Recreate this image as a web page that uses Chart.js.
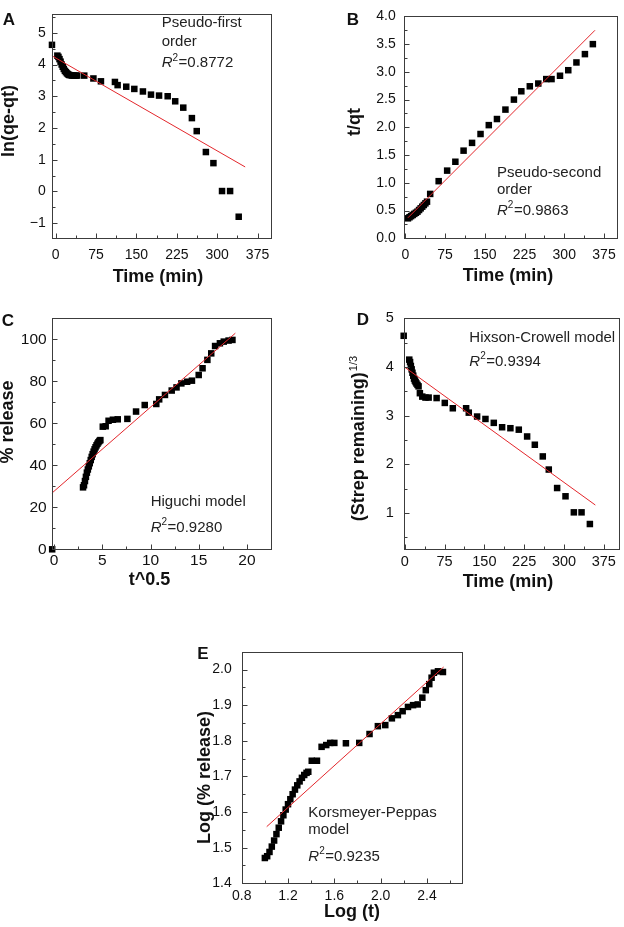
<!DOCTYPE html>
<html>
<head>
<meta charset="utf-8">
<script src="https://cdn.jsdelivr.net/npm/chart.js@4.4.0/dist/chart.umd.min.js"></script>
<style>
html, body { margin: 0; padding: 0; background: #fff; }
#wrap { position: relative; width: 624px; height: 927px; }
canvas { position: absolute; left: 0; top: 0; }
</style>
</head>
<body>
<div id="wrap">
  <canvas id="cA" width="624" height="927"></canvas>
  <canvas id="cB" width="624" height="927"></canvas>
  <canvas id="cC" width="624" height="927"></canvas>
  <canvas id="cD" width="624" height="927"></canvas>
  <canvas id="cE" width="624" height="927"></canvas>
</div>
<script>
// A - pseudo-first order
const timeA = [-7, 3, 5, 7, 9, 11, 13, 15, 17, 19, 21, 23, 25, 28, 31, 34, 37, 40, 53, 70, 84, 110, 115, 131, 146, 162, 177, 192, 208, 222, 237, 253, 262, 279, 293, 309, 324, 340];
const lnA = [4.62, 4.28, 4.24, 4.17, 4.09, 4.00, 3.93, 3.86, 3.80, 3.76, 3.72, 3.69, 3.67, 3.66, 3.65, 3.65, 3.65, 3.65, 3.65, 3.56, 3.47, 3.45, 3.35, 3.30, 3.23, 3.15, 3.05, 3.02, 3.00, 2.84, 2.64, 2.31, 1.90, 1.24, 0.89, 0.01, 0.01, -0.80];
const fitXA = [-7.5, 352];
const fitYA = [4.28, 0.77];

// B - pseudo-second order
const timeB = [5, 8, 11, 14, 17, 20, 23, 26, 29, 32, 35, 38, 41, 47, 63, 79, 94.5, 110, 126, 142, 157.6, 173, 189, 205, 219, 235, 251, 266, 276, 292, 307.6, 323, 339, 354];
const tqB = [0.36, 0.38, 0.40, 0.42, 0.44, 0.46, 0.48, 0.51, 0.54, 0.57, 0.60, 0.63, 0.66, 0.80, 1.03, 1.22, 1.38, 1.58, 1.72, 1.88, 2.04, 2.15, 2.32, 2.50, 2.65, 2.74, 2.79, 2.87, 2.87, 2.93, 3.03, 3.17, 3.32, 3.50];
const fitXB = [5, 358];
const fitYB = [0.37, 3.75];

// C - Higuchi
const sqrtC = [-0.2, 3.0, 3.1, 3.2, 3.3, 3.4, 3.5, 3.6, 3.7, 3.8, 3.9, 4.0, 4.1, 4.2, 4.3, 4.4, 4.5, 4.6, 4.7, 4.8, 5.05, 5.35, 5.65, 6.1, 6.6, 7.6, 8.5, 9.4, 10.6, 10.9, 11.5, 12.2, 12.7, 13.2, 13.8, 14.3, 15.0, 15.4, 15.9, 16.3, 16.7, 17.2, 17.6, 18.1, 18.5];
const relC = [0, 29.5, 30.5, 32.5, 34.5, 36.5, 38, 39.5, 41, 42.5, 44, 45.3, 46.5, 47.6, 48.6, 49.5, 50.3, 51, 51.6, 52, 58.4, 58.6, 61.2, 61.7, 61.9, 62.1, 65.6, 68.7, 69.2, 71.4, 73.5, 75.6, 77.1, 79, 79.8, 80.3, 83, 86.2, 90.2, 93.3, 96.8, 98.1, 98.9, 99.4, 99.7];
const fitXC = [-0.24, 18.8];
const fitYC = [26.7, 102.9];

// D - Hixson-Crowell
const timeD = [-2, 8.5, 10, 11.5, 13, 14.5, 16, 17.5, 19, 20.5, 22, 24, 26, 28.5, 33, 39, 45, 60, 75.4, 90.5, 115.6, 120.6, 136.3, 152, 167.7, 183.4, 199, 214.8, 230.5, 245, 260, 271.3, 287, 302.8, 318.5, 333, 348.7];
const cubeD = [4.64, 4.15, 4.10, 4.02, 3.95, 3.88, 3.82, 3.76, 3.72, 3.69, 3.66, 3.63, 3.60, 3.46, 3.39, 3.37, 3.37, 3.36, 3.26, 3.15, 3.15, 3.06, 2.98, 2.93, 2.85, 2.76, 2.74, 2.71, 2.57, 2.40, 2.16, 1.89, 1.51, 1.34, 1.01, 1.01, 0.77];
const fitXD = [-2, 359];
const fitYD = [4.01, 1.16];

// E - Korsmeyer-Peppas
const logtE = [1.00, 1.02, 1.04, 1.06, 1.08, 1.10, 1.12, 1.14, 1.16, 1.18, 1.20, 1.22, 1.24, 1.26, 1.28, 1.30, 1.32, 1.34, 1.36, 1.375, 1.405, 1.45, 1.49, 1.53, 1.564, 1.60, 1.70, 1.815, 1.904, 1.976, 2.04, 2.097, 2.149, 2.19, 2.236, 2.28, 2.32, 2.36, 2.39, 2.42, 2.44, 2.46, 2.495, 2.538];
const logRelE = [1.471, 1.476, 1.488, 1.503, 1.52, 1.538, 1.556, 1.574, 1.591, 1.607, 1.622, 1.636, 1.65, 1.663, 1.675, 1.686, 1.696, 1.704, 1.71, 1.713, 1.744, 1.744, 1.783, 1.788, 1.794, 1.794, 1.793, 1.794, 1.819, 1.841, 1.844, 1.863, 1.872, 1.883, 1.895, 1.90, 1.902, 1.921, 1.942, 1.959, 1.977, 1.991, 1.995, 1.993];
const fitXE = [1.016, 2.544];
const fitYE = [1.559, 2.007];

// tick labels
const timeTicks = [0, 75, 150, 225, 300, 375];
const yTicksA = [-1, 0, 1, 2, 3, 4, 5];
const yTicksB = [0, 0.5, 1, 1.5, 2, 2.5, 3, 3.5, 4];
const xTicksC = [0, 5, 10, 15, 20];
const yTicksC = [0, 20, 40, 60, 80, 100];
const yTicksD = [1, 2, 3, 4, 5];
const xTicksE = [0.8, 1.2, 1.6, 2.0, 2.4];
const yTicksE = [1.4, 1.5, 1.6, 1.7, 1.8, 1.9, 2.0];

const FONT = '"Liberation Sans", Arial, sans-serif';
const YW = 30, XH = 30;

function pts(xs, ys) {
    return xs.map((v, i) => ({ x: v, y: ys[i] }));
}

function run(min, max, minor, major, fn) {
    const k0 = Math.ceil(min / minor - 1e-9), k1 = Math.floor(max / minor + 1e-9);
    for (let k = k0; k <= k1; k++) {
        const v = k * minor;
        const r = v / major;
        fn(v, Math.abs(r - Math.round(r)) < 1e-6);
    }
}

function drawR2(ctx, x, y, val) {
    ctx.font = 'italic 15px ' + FONT;
    ctx.fillText('R', x, y);
    let w = ctx.measureText('R').width;
    ctx.font = '10px ' + FONT;
    ctx.fillText('2', x + w, y - 5);
    w += ctx.measureText('2').width + 0.5;
    ctx.font = '15px ' + FONT;
    ctx.fillText('=' + val, x + w, y);
}

const frame = {
    id: 'frame',
    afterDraw(chart, args, o) {
        const ctx = chart.ctx, a = chart.chartArea;
        const xs = chart.scales.x, ys = chart.scales.y;
        ctx.save();
        ctx.strokeStyle = '#3c3c3c';
        ctx.lineWidth = 1;
        const L = Math.round(a.left) + 0.5, R = Math.round(a.right) + 0.5;
        const T = Math.round(a.top) + 0.5, B = Math.round(a.bottom) + 0.5;
        ctx.strokeRect(L, T, R - L, B - T);
        ctx.beginPath();
        run(xs.min, xs.max, o.xMinor, o.xMajor, (v, big) => {
            const p = Math.round(xs.getPixelForValue(v)) + 0.5;
            ctx.moveTo(p, B); ctx.lineTo(p, B - (big ? 5 : 3));
        });
        run(ys.min, ys.max, o.yMinor, o.yMajor, (v, big) => {
            const p = Math.round(ys.getPixelForValue(v)) + 0.5;
            ctx.moveTo(L, p); ctx.lineTo(L + (big ? 5 : 3), p);
        });
        ctx.stroke();

        ctx.fillStyle = '#111';
        ctx.textBaseline = 'middle';
        // panel letter
        ctx.textAlign = 'center';
        ctx.font = 'bold 17px ' + FONT;
        ctx.fillText(o.letter[0], o.letter[1], o.letter[2]);
        // x title
        ctx.font = 'bold 18px ' + FONT;
        ctx.fillText(o.xTitle[0], o.xTitle[1], o.xTitle[2]);
        // y title
        ctx.save();
        ctx.translate(o.yTitle[1], o.yTitle[2]);
        ctx.rotate(-Math.PI / 2);
        if (o.ySup) {
            const w1 = ctx.measureText(o.yTitle[0]).width;
            ctx.font = '11px ' + FONT;
            const w2 = ctx.measureText(o.ySup).width;
            ctx.textAlign = 'left';
            ctx.font = 'bold 18px ' + FONT;
            ctx.fillText(o.yTitle[0], -(w1 + w2) / 2, 0);
            ctx.font = '11px ' + FONT;
            ctx.fillText(o.ySup, -(w1 + w2) / 2 + w1 + 1, -6);
        } else {
            ctx.fillText(o.yTitle[0], 0, 0);
        }
        ctx.restore();
        // notes
        ctx.textAlign = 'left';
        ctx.fillStyle = '#222';
        o.notes.forEach(n => {
            if (n.r2) {
                drawR2(ctx, o.noteX, n.y, n.r2);
            } else {
                ctx.font = '15px ' + FONT;
                ctx.fillText(n.t, o.noteX, n.y);
            }
        });
        ctx.restore();
    }
};

function panel(id, p) {
    const fmt = d => v => Number(v).toFixed(d).replace('-', '\u2212');
    const tickFont = { family: FONT, size: p.tickSize };
    new Chart(document.getElementById(id), {
        type: 'scatter',
        data: {
            datasets: [{
                type: 'line',
                data: pts(p.fitX, p.fitY),
                borderColor: '#e3262b',
                borderWidth: 1,
                pointRadius: 0,
                fill: false,
                order: 0
            }, {
                data: pts(p.xs, p.ys),
                pointStyle: 'rect',
                pointRadius: 4.6,
                backgroundColor: '#000',
                borderWidth: 0,
                clip: false,
                order: 1
            }]
        },
        options: {
            responsive: false,
            animation: false,
            events: [],
            layout: {
                padding: {
                    left: p.box[0] - YW,
                    top: p.box[1],
                    right: 624 - p.box[2],
                    bottom: 927 - p.box[3] - XH
                }
            },
            plugins: {
                legend: { display: false },
                tooltip: { enabled: false },
                frame: p.frame
            },
            scales: {
                x: {
                    type: 'linear',
                    min: p.xRange[0],
                    max: p.xRange[1],
                    afterBuildTicks: s => { s.ticks = p.xTicks.map(v => ({ value: v })); },
                    afterFit: s => { s.height = XH; },
                    grid: { display: false, drawTicks: false },
                    border: { display: false },
                    ticks: { padding: p.xPad, color: '#111', font: tickFont, callback: fmt(p.xDec), maxRotation: 0 }
                },
                y: {
                    type: 'linear',
                    min: p.yRange[0],
                    max: p.yRange[1],
                    afterBuildTicks: s => { s.ticks = p.yTicks.map(v => ({ value: v })); },
                    afterFit: s => { s.width = YW; },
                    grid: { display: false, drawTicks: false },
                    border: { display: false },
                    ticks: { padding: p.yPad, color: '#111', font: tickFont, callback: fmt(p.yDec) }
                }
            }
        },
        plugins: [frame]
    });
}

panel('cA', {
    box: [51.7, 5, 271, 238.3],
    xs: timeA, ys: lnA, fitX: fitXA, fitY: fitYA,
    xRange: [-7.5, 400], yRange: [-1.48, 5.58],
    xTicks: timeTicks, yTicks: yTicksA, xDec: 0, yDec: 0, xPad: 8, yPad: 6, tickSize: 14,
    frame: {
        xMinor: 37.5, xMajor: 75, yMinor: 0.5, yMajor: 1,
        letter: ['A', 9, 20], xTitle: ['Time (min)', 158, 277], yTitle: ['ln(qe-qt)', 9, 121],
        noteX: 161.7, notes: [{ t: 'Pseudo-first', y: 23.3 }, { t: 'order', y: 41.7 }, { r2: '0.8772', y: 63.3 }]
    }
});

panel('cB', {
    box: [403.7, 6, 618.7, 238.3],
    xs: timeB, ys: tqB, fitX: fitXB, fitY: fitYB,
    xRange: [-3, 400], yRange: [0, 4],
    xTicks: timeTicks, yTicks: yTicksB, xDec: 0, yDec: 1, xPad: 8, yPad: 8, tickSize: 14,
    frame: {
        xMinor: 37.5, xMajor: 75, yMinor: 0.25, yMajor: 0.5,
        letter: ['B', 353, 20], xTitle: ['Time (min)', 508, 276], yTitle: ['t/qt', 355, 122],
        noteX: 497, notes: [{ t: 'Pseudo-second', y: 172.7 }, { t: 'order', y: 190 }, { r2: '0.9863', y: 210.7 }]
    }
});

panel('cC', {
    box: [51.7, 318.3, 271, 549.3],
    xs: sqrtC, ys: relC, fitX: fitXC, fitY: fitYC,
    xRange: [-0.25, 22.5], yRange: [0, 110],
    xTicks: xTicksC, yTicks: yTicksC, xDec: 0, yDec: 0, xPad: 2, yPad: 5, tickSize: 15.5,
    frame: {
        xMinor: 2.5, xMajor: 5, yMinor: 10, yMajor: 20,
        letter: ['C', 8, 321], xTitle: ['t^0.5', 149.5, 580], yTitle: ['% release', 8, 422],
        noteX: 150.7, notes: [{ t: 'Higuchi model', y: 501.7 }, { r2: '0.9280', y: 527.7 }]
    }
});

panel('cD', {
    box: [403.7, 318.3, 618.7, 549.3],
    xs: timeD, ys: cubeD, fitX: fitXD, fitY: fitYD,
    xRange: [-2, 403], yRange: [0.25, 5],
    xTicks: timeTicks, yTicks: yTicksD, xDec: 0, yDec: 0, xPad: 4, yPad: 10, tickSize: 14.5,
    frame: {
        xMinor: 37.5, xMajor: 75, yMinor: 0.5, yMajor: 1,
        letter: ['D', 363, 320], xTitle: ['Time (min)', 508, 581.7], yTitle: ['(Strep remaining)', 359.5, 439], ySup: '1/3',
        noteX: 469.3, notes: [{ t: 'Hixson-Crowell model', y: 337.7 }, { r2: '0.9394', y: 361.7 }]
    }
});

panel('cE', {
    box: [241.7, 651.7, 461.7, 883.3],
    xs: logtE, ys: logRelE, fitX: fitXE, fitY: fitYE,
    xRange: [0.8, 2.7], yRange: [1.4, 2.05],
    xTicks: xTicksE, yTicks: yTicksE, xDec: 1, yDec: 1, xPad: 4, yPad: 10, tickSize: 14,
    frame: {
        xMinor: 0.2, xMajor: 0.4, yMinor: 0.05, yMajor: 0.1,
        letter: ['E', 203, 654], xTitle: ['Log (t)', 352, 911.7], yTitle: ['Log (% release)', 205, 777.5],
        noteX: 308.3, notes: [{ t: 'Korsmeyer-Peppas', y: 812.7 }, { t: 'model', y: 830 }, { r2: '0.9235', y: 856.7 }]
    }
});
</script>
</body>
</html>
